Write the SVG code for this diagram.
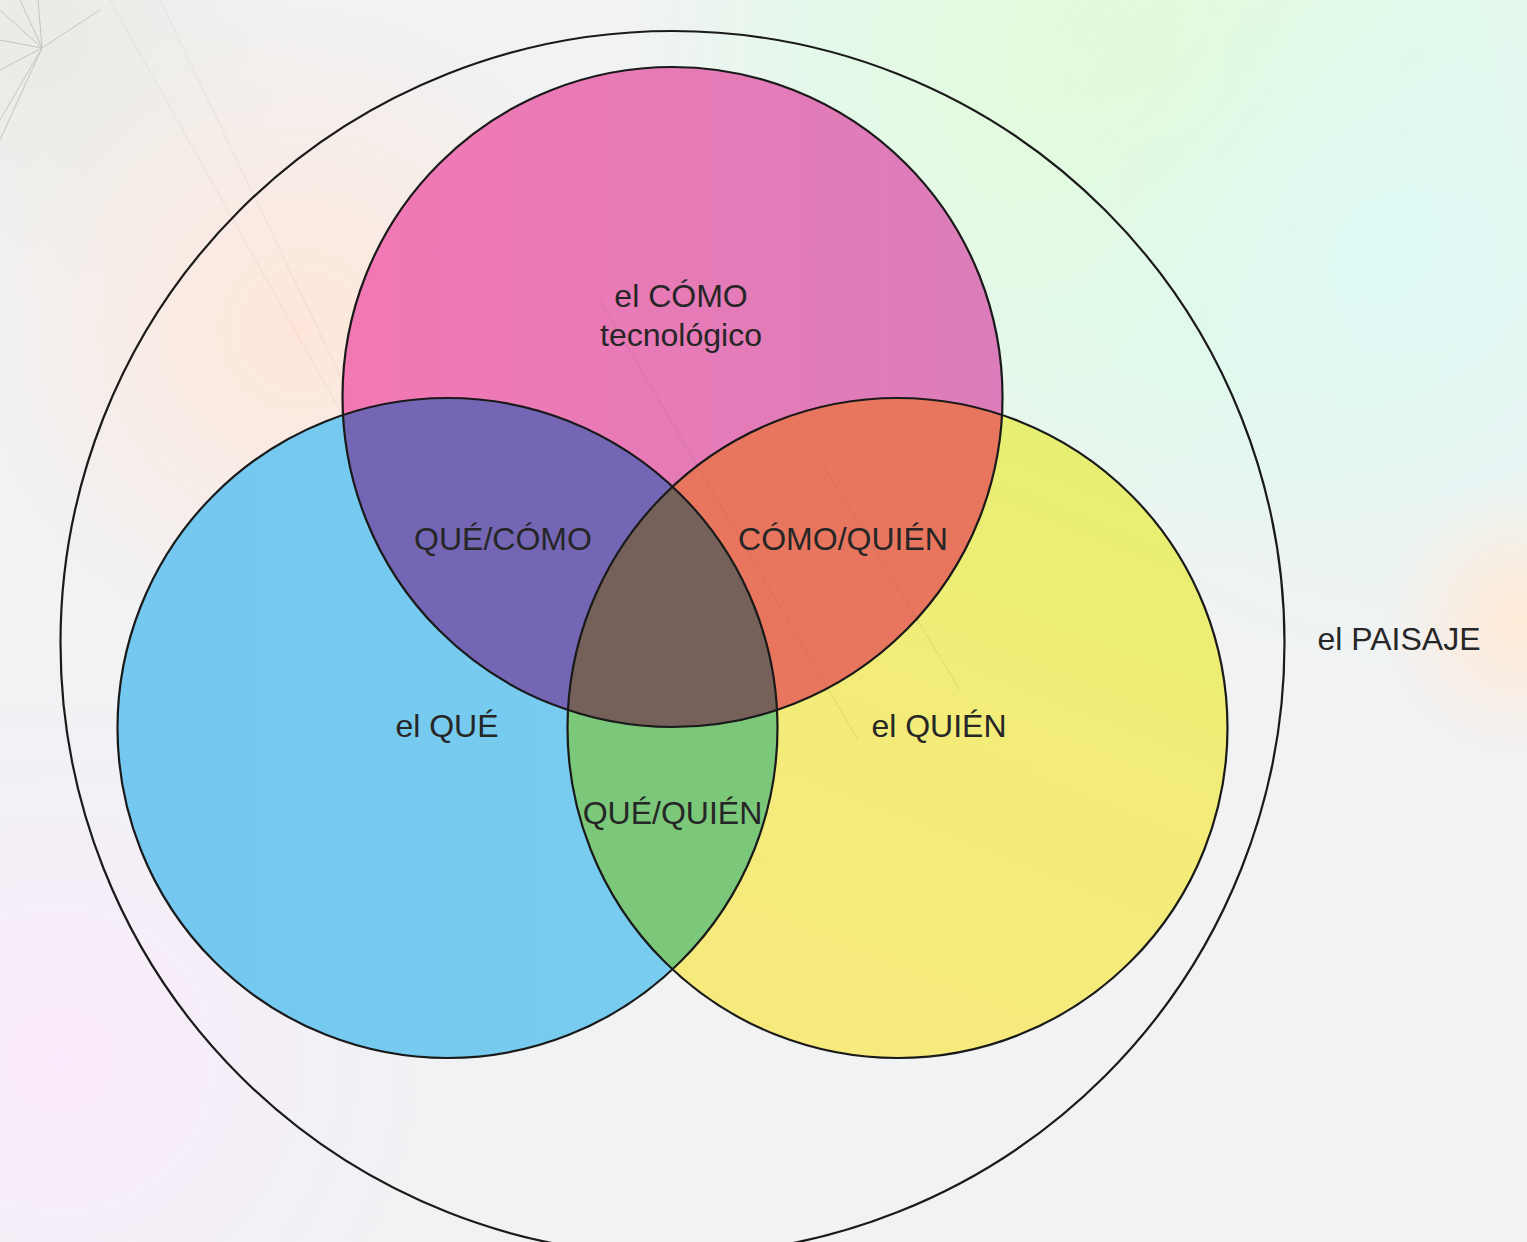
<svg xmlns="http://www.w3.org/2000/svg" width="1527" height="1242" viewBox="0 0 1527 1242">
<defs>
<radialGradient id="gPeach" cx="300" cy="330" r="330" gradientUnits="userSpaceOnUse">
<stop offset="0" stop-color="#ffe6d8" stop-opacity="0.95"/>
<stop offset="1" stop-color="#ffe6d8" stop-opacity="0"/>
</radialGradient>
<radialGradient id="gGreen" cx="1150" cy="60" r="520" gradientUnits="userSpaceOnUse">
<stop offset="0" stop-color="#e3fbd3"/>
<stop offset="0.6" stop-color="#e0fbe6" stop-opacity="0.8"/>
<stop offset="1" stop-color="#e0fbe6" stop-opacity="0"/>
</radialGradient>
<radialGradient id="gMint" cx="1400" cy="260" r="420" gradientUnits="userSpaceOnUse">
<stop offset="0" stop-color="#def8f6"/>
<stop offset="1" stop-color="#def8ee" stop-opacity="0"/>
</radialGradient>
<radialGradient id="gPeach2" cx="1520" cy="620" r="140" gradientUnits="userSpaceOnUse">
<stop offset="0" stop-color="#ffe9d6"/>
<stop offset="1" stop-color="#ffe9d6" stop-opacity="0"/>
</radialGradient>
<radialGradient id="gPink" cx="60" cy="1060" r="380" gradientUnits="userSpaceOnUse">
<stop offset="0" stop-color="#fbeafb"/>
<stop offset="1" stop-color="#f6ecfb" stop-opacity="0"/>
</radialGradient>
<radialGradient id="gGray" cx="40" cy="40" r="260" gradientUnits="userSpaceOnUse">
<stop offset="0" stop-color="#e9ebe4"/>
<stop offset="1" stop-color="#e9ebe4" stop-opacity="0"/>
</radialGradient>
<linearGradient id="gPinkFill" x1="342" y1="0" x2="1002" y2="0" gradientUnits="userSpaceOnUse">
<stop offset="0" stop-color="#f278b4"/>
<stop offset="1" stop-color="#db7dba"/>
</linearGradient>
<linearGradient id="gYellowFill" x1="1150" y1="420" x2="900" y2="1050" gradientUnits="userSpaceOnUse">
<stop offset="0" stop-color="#e3f070"/>
<stop offset="0.45" stop-color="#f2ec78"/>
<stop offset="1" stop-color="#f6ea7c"/>
</linearGradient>
<linearGradient id="gBlueFill" x1="117" y1="0" x2="777" y2="0" gradientUnits="userSpaceOnUse">
<stop offset="0" stop-color="#74c8f0"/>
<stop offset="1" stop-color="#79cdee"/>
</linearGradient>
</defs>
<style>
.ring { fill: none; stroke: #1a1a1a; stroke-width: 2.2; }
.lbl { font-family: "Liberation Sans", Arial, sans-serif; font-size: 32px; fill: #262626; text-anchor: middle; }
.sketch { stroke: #555; stroke-width: 1; fill: none; }
</style>

<g id="background">
<rect x="0" y="0" width="1527" height="1242" fill="#f1f2f4"/>
<rect x="0" y="0" width="1527" height="1242" fill="url(#gGray)"/>
<rect x="0" y="0" width="1527" height="1242" fill="url(#gPeach)"/>
<rect x="0" y="0" width="1527" height="1242" fill="url(#gGreen)"/>
<rect x="0" y="0" width="1527" height="1242" fill="url(#gMint)"/>
<rect x="0" y="0" width="1527" height="1242" fill="url(#gPeach2)"/>
<rect x="0" y="0" width="1527" height="1242" fill="url(#gPink)"/>
<g class="sketch" opacity="0.25">
<line x1="42" y1="48" x2="0" y2="10"/>
<line x1="42" y1="48" x2="20" y2="0"/>
<line x1="42" y1="48" x2="38" y2="0"/>
<line x1="42" y1="48" x2="0" y2="40"/>
<line x1="42" y1="48" x2="0" y2="70"/>
<line x1="42" y1="48" x2="0" y2="140"/>
<line x1="42" y1="48" x2="100" y2="10"/>
<line x1="42" y1="48" x2="0" y2="120"/>
</g>
<g class="sketch" opacity="0.08">
<line x1="110" y1="0" x2="460" y2="625"/>
<line x1="160" y1="0" x2="460" y2="625"/>
<line x1="560" y1="150" x2="858" y2="740"/>
<line x1="610" y1="180" x2="858" y2="740"/>
<line x1="800" y1="420" x2="960" y2="690"/>
<line x1="200" y1="620" x2="265" y2="845"/>
</g>
</g>

<g id="paisaje">
<circle class="ring" cx="672.5" cy="643" r="612"/>
</g>

<g id="como">
<circle cx="672.5" cy="397" r="330" fill="url(#gPinkFill)"/>
</g>
<g id="que">
<circle cx="447.5" cy="728" r="330" fill="url(#gBlueFill)"/>
</g>
<g id="quien">
<circle cx="897.5" cy="728" r="330" fill="url(#gYellowFill)"/>
</g>

<g id="que-como">
<path d="M342.99,414.99 A330,330 0 0 1 672.5,487.07 A330,330 0 0 0 567.99,710.01 A330,330 0 0 1 342.99,414.99 Z" fill="#7466b5"/>
</g>
<g id="como-quien">
<path d="M1002.01,414.99 A330,330 0 0 0 672.5,487.07 A330,330 0 0 1 777.01,710.01 A330,330 0 0 0 1002.01,414.99 Z" fill="#e8765e"/>
</g>
<g id="que-quien">
<path d="M567.99,710.01 A330,330 0 0 0 777.01,710.01 A330,330 0 0 1 672.5,968.93 A330,330 0 0 1 567.99,710.01 Z" fill="#7bc87a"/>
</g>
<g id="centro">
<path d="M672.5,487.07 A330,330 0 0 1 777.01,710.01 A330,330 0 0 1 567.99,710.01 A330,330 0 0 1 672.5,487.07 Z" fill="#756159"/>
</g>

<g class="sketch" opacity="0.12">
<line x1="345" y1="420" x2="458" y2="625"/>
<line x1="600" y1="300" x2="858" y2="740"/>
<line x1="820" y1="460" x2="960" y2="690"/>
</g>

<g id="outlines">
<circle class="ring" cx="672.5" cy="397" r="330"/>
<circle class="ring" cx="447.5" cy="728" r="330"/>
<circle class="ring" cx="897.5" cy="728" r="330"/>
</g>

<g id="labels">
<text class="lbl" x="681" y="307">el CÓMO</text>
<text class="lbl" x="681" y="346">tecnológico</text>
<text class="lbl" x="503" y="550">QUÉ/CÓMO</text>
<text class="lbl" x="843" y="550">CÓMO/QUIÉN</text>
<text class="lbl" x="447" y="737">el QUÉ</text>
<text class="lbl" x="939" y="737">el QUIÉN</text>
<text class="lbl" x="672.5" y="824">QUÉ/QUIÉN</text>
<text class="lbl" x="1399" y="650">el PAISAJE</text>
</g>
</svg>
